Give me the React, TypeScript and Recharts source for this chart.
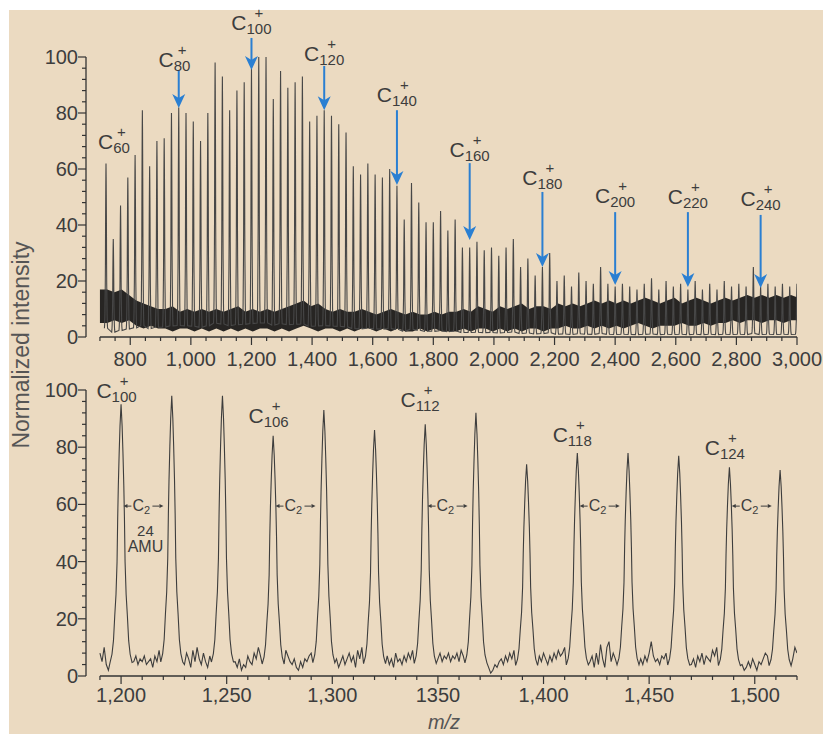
import React from 'react';
import {
  ComposedChart,
  Line,
  Area,
  XAxis,
  YAxis,
  ReferenceLine,
  ReferenceDot
} from 'recharts';

// ---------- data ----------

// carbon cluster peaks sit every C2 = 24 AMU
const C2_STEP = 24;

// top panel: one peak per C2 step, m/z 720 ... 3000
const topFirstPeak = 720;
const topPeakHeights = [
  62, 35, 47, 57, 65, 81, 61, 70,
  71, 80, 82, 80, 77, 70, 80, 98,
  93, 81, 88, 91, 96, 100, 100, 85,
  95, 89, 91, 93, 77, 79, 81, 79,
  76, 73, 61, 58, 62, 58, 57, 60,
  54, 42, 55, 48, 41, 41, 45, 38,
  42, 32, 32, 34, 31, 32, 29, 32,
  35, 25, 28, 22, 25, 30, 20, 22,
  18, 23, 20, 19, 25, 19, 18, 19,
  18, 17, 19, 21, 17, 20, 18, 19,
  17, 20, 17, 19, 17, 20, 18, 19,
  18, 25, 18, 19, 18, 19, 18, 19
];

// top panel noise floor band, sampled every 24 AMU from m/z 700
const topNoiseStart = 700;
const topNoiseLow = [
  5, 5, 6, 5, 6, 4, 3, 4, 3, 3,
  2, 3, 3, 2, 3, 2, 3, 2, 3, 2,
  3, 2, 3, 3, 2, 3, 2, 3, 4, 3,
  2, 3, 3, 2, 3, 2, 3, 3, 2, 3,
  2, 3, 2, 2, 3, 2, 3, 2, 2, 2,
  3, 2, 3, 3, 2, 3, 2, 3, 2, 3,
  3, 2, 3, 3, 4, 3, 3, 4, 3, 4,
  3, 4, 3, 4, 5, 4, 3, 4, 4, 4,
  5, 4, 4, 5, 4, 5, 5, 6, 5, 6,
  6, 5, 6, 6, 5, 6, 6
];
const topNoiseHigh = [
  17, 17, 16, 17, 15, 13, 12, 11, 10, 10,
  11, 9, 10, 9, 10, 9, 10, 9, 10, 11,
  9, 10, 9, 10, 9, 10, 11, 12, 13, 11,
  12, 10, 9, 10, 9, 9, 10, 9, 8, 9,
  10, 9, 8, 9, 8, 8, 9, 8, 9, 9,
  10, 9, 11, 10, 9, 11, 10, 11, 12, 10,
  11, 11, 10, 12, 11, 12, 11, 12, 13, 12,
  13, 12, 13, 12, 13, 14, 13, 12, 13, 14,
  12, 13, 14, 13, 12, 13, 14, 13, 14, 15,
  14, 15, 14, 15, 14, 15, 14
];

// bottom panel (zoom), peaks C100 ... C126
const bottomFirstPeak = 1200;
const bottomPeakHeights = [95, 98, 98, 84, 93, 86, 88, 92, 74, 78, 78, 77, 73, 72];

// bottom panel baseline noise, 1 AMU steps: lead-in, then the gap after each peak
const bottomLeadStart = 1190;
const bottomNoiseGaps = [
  [8, 5, 10, 4, 2],
  [5, 7, 4, 6, 5, 7, 4, 5, 6, 3, 7, 5, 9],
  [4, 8, 6, 3, 9, 5, 10, 6, 4, 8, 5, 3, 7],
  [5, 3, 6, 2, 4, 3, 7, 5, 4, 8, 6, 10, 7],
  [9, 7, 5, 4, 6, 3, 2, 5, 3, 6, 5, 7, 8],
  [6, 3, 5, 7, 4, 6, 8, 5, 7, 3, 9, 6, 10],
  [7, 4, 6, 3, 8, 5, 6, 4, 7, 5, 8, 6, 9],
  [6, 8, 5, 7, 6, 8, 5, 7, 6, 8, 5, 9, 7],
  [3, 1, 2, 4, 3, 5, 6, 4, 7, 5, 8, 6, 9],
  [7, 5, 8, 6, 4, 7, 5, 8, 6, 9, 7, 8, 10],
  [5, 7, 3, 8, 4, 11, 6, 3, 10, 12, 5, 8, 6],
  [6, 4, 7, 5, 8, 12, 7, 5, 6, 4, 7, 6, 8],
  [4, 6, 3, 7, 5, 8, 4, 7, 6, 5, 9, 7, 10],
  [4, 2, 3, 5, 3, 6, 4, 2, 5, 4, 6, 8, 7],
  [6, 10, 8]
];
const GAP_OFFSET = 6;

// peak profile (AMU offset from centre, fraction of peak height)
const peakShapeOffset = [-5.2, -4.3, -3.6, -3, -2.4, -1.9, -1.6, -1.3, -0.9, -0.5, 0, 0.5, 0.9, 1.3, 1.6, 1.9, 2.4, 3, 3.6, 4.3, 5.2];
const peakShapeFraction = [0.05, 0.08, 0.13, 0.22, 0.3, 0.42, 0.58, 0.7, 0.82, 0.92, 1, 0.92, 0.82, 0.7, 0.58, 0.42, 0.3, 0.22, 0.13, 0.08, 0.05];

// axis ticks
const topTickValues = [800, 1000, 1200, 1400, 1600, 1800, 2000, 2200, 2400, 2600, 2800, 3000];
const topTickLabels = ['800', '1,000', '1,200', '1,400', '1,600', '1,800', '2,000', '2,200', '2,400', '2,600', '2,800', '3,000'];
const bottomTickValues = [1200, 1250, 1300, 1350, 1400, 1450, 1500];
const bottomTickLabels = ['1,200', '1,250', '1,300', '1350', '1,400', '1,450', '1,500'];
const yTickValues = [0, 20, 40, 60, 80, 100];

// annotations
const topIonCarbons = [60, 80, 100, 120, 140, 160, 180, 200, 220, 240];
const topLabelMz = [760, 960, 1200, 1440, 1680, 1920, 2160, 2400, 2640, 2880];
const topLabelLevel = [67, 96.4, 109.6, 98.6, 83.9, 64.3, 54.3, 47.9, 47.5, 46.8];
const topArrowFrom = [null, 95.4, 106.8, 96.8, 81, 62.1, 51.8, 44.6, 44.6, 43.6];
const topArrowTo = [null, 81.8, 95.4, 81, 54.3, 34.6, 25, 18.6, 17.9, 17.5];

const bottomIonCarbons = [100, 106, 112, 118, 124];
const bottomLabelLevel = [97.2, 88.5, 94, 81.8, 77.3];
const c2MarkMz = [1212, 1284, 1356, 1428, 1500];
const c2MarkLevel = 59.4;

// ---------- styling ----------
const PANEL_BG = '#ebdac1';
const INK = '#3d3d3d';
const AXIS = '#333333';
const BLUE = '#2a7fd2';
const FONT = '"Liberation Sans", Arial, Helvetica, sans-serif';

// ---------- series tables ----------
const peakPoints = (centre: number, h: number) =>
  peakShapeOffset.map((o, k) => ({ mz: centre + o, v: h * peakShapeFraction[k] }));

const topPeakData = topPeakHeights.flatMap((h, i) => peakPoints(topFirstPeak + i * C2_STEP, h));

const topBandData = topNoiseLow.map((lo, i) => ({
  mz: topNoiseStart + i * C2_STEP,
  band: [lo, topNoiseHigh[i]]
}));

const bottomData: { mz: number; v: number }[] = [];
bottomNoiseGaps.forEach((row, g) => {
  const start = g === 0 ? bottomLeadStart : bottomFirstPeak + (g - 1) * C2_STEP + GAP_OFFSET;
  row.forEach((v, j) => bottomData.push({ mz: start + j, v }));
  if (g < bottomPeakHeights.length) {
    bottomData.push(...peakPoints(bottomFirstPeak + g * C2_STEP, bottomPeakHeights[g]));
  }
});

const range = (from: number, to: number, step: number) =>
  Array.from({ length: Math.round((to - from) / step) + 1 }, (_, i) => from + i * step);

const topAllTicks = range(700, 3000, 50);
const bottomAllTicks = range(1190, 1520, 10);
const yAllTicks = range(0, 100, 4);

// ---------- small svg pieces ----------
const makeXTick = (values: number[], labels: string[], labelDy: number) => (props: any) => {
  const { x, y, payload } = props;
  const idx = values.indexOf(payload.value);
  const major = idx >= 0;
  return (
    <g>
      <line x1={x} x2={x} y1={y} y2={y + (major ? 8 : 4)} stroke={AXIS} strokeWidth={1.2} />
      {major && (
        <text x={x} y={y + labelDy} textAnchor="middle" fontSize={20} fontFamily={FONT} fill={INK}>
          {labels[idx]}
        </text>
      )}
    </g>
  );
};

const renderYTick = (props: any) => {
  const { x, y, payload } = props;
  const major = yTickValues.includes(payload.value);
  return (
    <g>
      <line x1={x - (major ? 8 : 4)} x2={x} y1={y} y2={y} stroke={AXIS} strokeWidth={1.2} />
      {major && (
        <text x={x - 8} y={y + 7} textAnchor="end" fontSize={20} fontFamily={FONT} fill={INK}>
          {payload.value}
        </text>
      )}
    </g>
  );
};

const IonLabel = ({ cx, cy, n, dx }: any) => {
  const sub = String(n);
  const xs = cx + dx;
  const subW = sub.length * 8.3;
  return (
    <g fill={INK} fontFamily={FONT}>
      <text x={xs} y={cy} textAnchor="end" fontSize={21}>C</text>
      <text x={xs} y={cy + 4} fontSize={15}>{sub}</text>
      <text x={xs + subW / 2} y={cy - 12} textAnchor="middle" fontSize={15}>+</text>
    </g>
  );
};

const ArrowHead = ({ cx, cy }: any) => (
  <polygon
    points={`${cx - 6.5},${cy - 14} ${cx},${cy - 10} ${cx + 6.5},${cy - 14} ${cx},${cy}`}
    fill={BLUE}
  />
);

const C2Mark = ({ cx, cy, amu }: any) => (
  <g fill={INK} fontFamily={FONT}>
    <line x1={cx - 20} x2={cx - 15} y1={cy} y2={cy} stroke={INK} strokeWidth={1} />
    <polygon points={`${cx - 23},${cy} ${cx - 19},${cy - 2} ${cx - 19},${cy + 2}`} />
    <text x={cx - 14} y={cy + 5} fontSize={16}>C</text>
    <text x={cx - 2.5} y={cy + 8} fontSize={11}>2</text>
    <line x1={cx + 6} x2={cx + 13} y1={cy} y2={cy} stroke={INK} strokeWidth={1} />
    <polygon points={`${cx + 17},${cy} ${cx + 13},${cy - 2} ${cx + 13},${cy + 2}`} />
    {amu && (
      <>
        <text x={cx - 1} y={cy + 30} textAnchor="middle" fontSize={15}>24</text>
        <text x={cx - 1} y={cy + 46} textAnchor="middle" fontSize={16}>AMU</text>
      </>
    )}
  </g>
);

function TopPanel() {
  return (
    <ComposedChart width={823} height={372} margin={{ top: 57, right: 26, bottom: 5, left: 26 }}>
      <XAxis
        dataKey="mz"
        type="number"
        domain={[654, 3000]}
        allowDataOverflow
        ticks={topAllTicks}
        interval={0}
        tick={makeXTick(topTickValues, topTickLabels, 29)}
        tickLine={false}
        axisLine={false}
        tickSize={0}
        tickMargin={0}
        height={30}
      />
      <YAxis
        type="number"
        domain={[0, 100]}
        allowDataOverflow
        ticks={yAllTicks}
        interval={0}
        width={60}
        tick={renderYTick}
        tickLine={false}
        tickSize={0}
        tickMargin={0}
        axisLine={{ stroke: AXIS, strokeWidth: 1.3 }}
      />
      <Area
        data={topBandData}
        dataKey="band"
        type="linear"
        stroke="none"
        fill="#161616"
        fillOpacity={0.92}
        isAnimationActive={false}
      />
      <Line
        data={topPeakData}
        dataKey="v"
        type="linear"
        stroke="#474747"
        strokeWidth={1.1}
        dot={false}
        isAnimationActive={false}
      />
      <ReferenceLine
        segment={[{ x: 700, y: 0 }, { x: 3000, y: 0 }]}
        stroke={AXIS}
        strokeWidth={1.3}
        ifOverflow="visible"
      />
      {topIonCarbons.map((n, i) =>
        topArrowFrom[i] == null ? null : (
          <ReferenceLine
            key={`shaft-${n}`}
            segment={[
              { x: n * 12, y: topArrowFrom[i] as number },
              { x: n * 12, y: (topArrowTo[i] as number) + 3 }
            ]}
            stroke={BLUE}
            strokeWidth={2}
            ifOverflow="visible"
          />
        )
      )}
      {topIonCarbons.map((n, i) =>
        topArrowTo[i] == null ? null : (
          <ReferenceDot
            key={`head-${n}`}
            x={n * 12}
            y={topArrowTo[i] as number}
            ifOverflow="visible"
            shape={(p: any) => <ArrowHead {...p} />}
          />
        )
      )}
      {topIonCarbons.map((n, i) => (
        <ReferenceDot
          key={`label-${n}`}
          x={topLabelMz[i]}
          y={topLabelLevel[i]}
          ifOverflow="visible"
          shape={(p: any) => <IonLabel {...p} n={n} dx={-5} />}
        />
      ))}
    </ComposedChart>
  );
}

function BottomPanel() {
  return (
    <ComposedChart width={823} height={374} margin={{ top: 30, right: 26, bottom: 28, left: 26 }}>
      <XAxis
        dataKey="mz"
        type="number"
        domain={[1183.4, 1520]}
        allowDataOverflow
        ticks={bottomAllTicks}
        interval={0}
        tick={makeXTick(bottomTickValues, bottomTickLabels, 26)}
        tickLine={false}
        axisLine={false}
        tickSize={0}
        tickMargin={0}
        height={30}
      />
      <YAxis
        type="number"
        domain={[0, 100]}
        allowDataOverflow
        ticks={yAllTicks}
        interval={0}
        width={60}
        tick={renderYTick}
        tickLine={false}
        tickSize={0}
        tickMargin={0}
        axisLine={{ stroke: AXIS, strokeWidth: 1.3 }}
      />
      <Line
        data={bottomData}
        dataKey="v"
        type="linear"
        stroke="#3d3d3d"
        strokeWidth={1.1}
        dot={false}
        isAnimationActive={false}
      />
      <ReferenceLine
        segment={[{ x: 1190, y: 0 }, { x: 1520, y: 0 }]}
        stroke={AXIS}
        strokeWidth={1.3}
        ifOverflow="visible"
      />
      {bottomIonCarbons.map((n, i) => (
        <ReferenceDot
          key={`blabel-${n}`}
          x={n * 12}
          y={bottomLabelLevel[i]}
          ifOverflow="visible"
          shape={(p: any) => <IonLabel {...p} n={n} dx={-9.5} />}
        />
      ))}
      {c2MarkMz.map((mz, i) => (
        <ReferenceDot
          key={`c2-${mz}`}
          x={mz}
          y={c2MarkLevel}
          ifOverflow="visible"
          shape={(p: any) => <C2Mark {...p} amu={i === 0} />}
        />
      ))}
    </ComposedChart>
  );
}

export default function App() {
  return (
    <div
      style={{
        position: 'absolute',
        left: 0,
        top: 0,
        width: 823,
        height: 734,
        background: '#ffffff',
        overflow: 'hidden'
      }}
    >
      <div
        style={{ position: 'absolute', left: 9, top: 10, width: 814, height: 724, background: PANEL_BG }}
      />
      <svg
        width={823}
        height={734}
        style={{ position: 'absolute', left: 0, top: 0 }}
      >
        <text
          x={21}
          y={345}
          transform="rotate(-90, 21, 345)"
          textAnchor="middle"
          dominantBaseline="central"
          fontSize={23}
          fontFamily={FONT}
          fill="#555"
        >
          Normalized intensity
        </text>
        <text
          x={444}
          y={729}
          textAnchor="middle"
          fontSize={20}
          fontStyle="italic"
          fontFamily={FONT}
          fill="#555"
        >
          m/z
        </text>
      </svg>
      <div style={{ position: 'absolute', left: 0, top: 0 }}>
        <TopPanel />
      </div>
      <div style={{ position: 'absolute', left: 0, top: 360 }}>
        <BottomPanel />
      </div>
    </div>
  );
}
